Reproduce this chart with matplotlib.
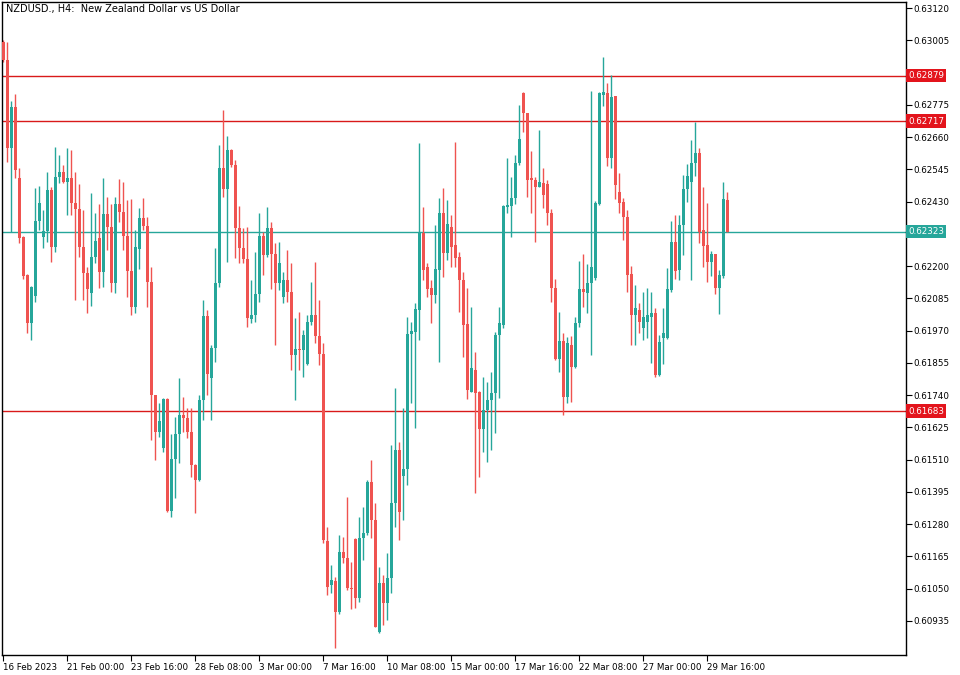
import matplotlib
matplotlib.use("Agg")
import matplotlib.pyplot as plt
import matplotlib.transforms as mtransforms
import pandas as pd

title = "NZDUSD., H4:  New Zealand Dollar vs US Dollar"

open_ = [
    0.62999, 0.62935, 0.62620, 0.62766, 0.62513, 0.62303, 0.62168, 0.61998, 0.62093, 0.62361,
    0.62305, 0.62325, 0.62471, 0.62267, 0.62519, 0.62536, 0.62499, 0.62515, 0.62426, 0.62403,
    0.62267, 0.62176, 0.62103, 0.62233, 0.62300, 0.62180, 0.62385, 0.62340, 0.62140, 0.62420,
    0.62392, 0.62308, 0.62182, 0.62055, 0.62260, 0.62370, 0.62344, 0.62144, 0.61740, 0.61610,
    0.61553, 0.61726, 0.61327, 0.61512, 0.61600, 0.61669, 0.61659, 0.61610, 0.61491, 0.61437,
    0.61723, 0.62022, 0.61800, 0.61907, 0.62139, 0.62549, 0.62474, 0.62614, 0.62560, 0.62335,
    0.62263, 0.62224, 0.62012, 0.62026, 0.62100, 0.62307, 0.62240, 0.62335, 0.62243, 0.62141,
    0.62091, 0.62150, 0.62109, 0.61883, 0.61904, 0.61901, 0.61850, 0.62002, 0.62026, 0.61951,
    0.61886, 0.61220, 0.61063, 0.61077, 0.60967, 0.61182, 0.61160, 0.61052, 0.61227, 0.61016,
    0.61229, 0.61247, 0.61431, 0.61295, 0.60897, 0.61069, 0.60998, 0.61087, 0.61354, 0.61544,
    0.61452, 0.61476, 0.61958, 0.61966, 0.62043, 0.62319, 0.62198, 0.62121, 0.62097, 0.62186,
    0.62388, 0.62245, 0.62340, 0.62275, 0.62233, 0.62150, 0.61993, 0.61752, 0.61830, 0.61752,
    0.61618, 0.61687, 0.61723, 0.61746, 0.61954, 0.61990, 0.62412, 0.62414, 0.62442, 0.62566,
    0.62816, 0.62745, 0.62513, 0.62507, 0.62483, 0.62497, 0.62493, 0.62390, 0.62121, 0.61868,
    0.61934, 0.61734, 0.61919, 0.61841, 0.61996, 0.62117, 0.62105, 0.62139, 0.62156, 0.62421,
    0.62810, 0.62816, 0.62584, 0.62806, 0.62465, 0.62430, 0.62376, 0.62172, 0.62026, 0.62045,
    0.61978, 0.62002, 0.62020, 0.62032, 0.61812, 0.61943, 0.61943, 0.62115, 0.62287, 0.62186,
    0.62346, 0.62475, 0.62501, 0.62568, 0.62604, 0.62329, 0.62275, 0.62216, 0.62242, 0.62123,
    0.62165, 0.62435,
]
high = [
    0.63006, 0.63000, 0.62788, 0.62812, 0.62549, 0.62307, 0.62170, 0.62128, 0.62477, 0.62485,
    0.62400, 0.62536, 0.62483, 0.62623, 0.62596, 0.62560, 0.62620, 0.62614, 0.62536, 0.62493,
    0.62400, 0.62198, 0.62459, 0.62388, 0.62420, 0.62515, 0.62447, 0.62420, 0.62447, 0.62510,
    0.62501, 0.62435, 0.62439, 0.62329, 0.62408, 0.62442, 0.62376, 0.62198, 0.61742, 0.61711,
    0.61728, 0.61728, 0.61600, 0.61663, 0.61802, 0.61734, 0.61693, 0.61695, 0.61493, 0.61740,
    0.62079, 0.62043, 0.61919, 0.62263, 0.62632, 0.62756, 0.62664, 0.62616, 0.62578, 0.62414,
    0.62335, 0.62338, 0.62150, 0.62251, 0.62388, 0.62323, 0.62412, 0.62358, 0.62281, 0.62287,
    0.62180, 0.62257, 0.62210, 0.62014, 0.62037, 0.61972, 0.62026, 0.62144, 0.62216, 0.62079,
    0.61925, 0.61271, 0.61134, 0.61093, 0.61241, 0.61235, 0.61378, 0.61146, 0.61229, 0.61307,
    0.61342, 0.61437, 0.61509, 0.61354, 0.61128, 0.61099, 0.61176, 0.61562, 0.61764, 0.61574,
    0.61693, 0.62020, 0.62002, 0.62069, 0.62640, 0.62412, 0.62210, 0.62150, 0.62346, 0.62442,
    0.62477, 0.62435, 0.62382, 0.62643, 0.62251, 0.62180, 0.62121, 0.62055, 0.61895, 0.61754,
    0.61806, 0.61788, 0.61823, 0.61966, 0.62055, 0.62418, 0.62584, 0.62519, 0.62596, 0.62774,
    0.62822, 0.62746, 0.62611, 0.62519, 0.62685, 0.62549, 0.62507, 0.62402, 0.62153, 0.62037,
    0.61962, 0.61946, 0.61951, 0.62020, 0.62219, 0.62243, 0.62207, 0.62825, 0.62433, 0.62822,
    0.62944, 0.62854, 0.62881, 0.62808, 0.62533, 0.62442, 0.62400, 0.62200, 0.62133, 0.62067,
    0.62109, 0.62121, 0.62107, 0.62052, 0.61954, 0.62052, 0.62192, 0.62361, 0.62382, 0.62382,
    0.62525, 0.62563, 0.62649, 0.62712, 0.62620, 0.62483, 0.62424, 0.62254, 0.62244, 0.62186,
    0.62499, 0.62463,
]
low = [
    0.62927, 0.62572, 0.62320, 0.62513, 0.62281, 0.62153, 0.61962, 0.61936, 0.62073, 0.62329,
    0.62263, 0.62287, 0.62216, 0.62251, 0.62495, 0.62495, 0.62382, 0.62382, 0.62079, 0.62233,
    0.62079, 0.62032, 0.62058, 0.62210, 0.62121, 0.62126, 0.62257, 0.62109, 0.62103, 0.62358,
    0.62257, 0.62091, 0.62026, 0.62032, 0.62190, 0.62329, 0.62055, 0.61580, 0.61509, 0.61592,
    0.61538, 0.61322, 0.61307, 0.61372, 0.61497, 0.61610, 0.61586, 0.61449, 0.61319, 0.61434,
    0.61651, 0.61740, 0.61651, 0.61859, 0.62126, 0.62447, 0.62216, 0.62554, 0.62228, 0.62212,
    0.62212, 0.61984, 0.61998, 0.62002, 0.62073, 0.62168, 0.62233, 0.62117, 0.61919, 0.62115,
    0.62067, 0.62073, 0.61830, 0.61723, 0.61830, 0.61806, 0.61847, 0.61990, 0.61925, 0.61847,
    0.61212, 0.61027, 0.61033, 0.60837, 0.60960, 0.61140, 0.61045, 0.60978, 0.60980, 0.61001,
    0.61152, 0.61241, 0.61229, 0.60912, 0.60891, 0.60920, 0.60938, 0.61033, 0.61271, 0.61224,
    0.61295, 0.61420, 0.61711, 0.61622, 0.61936, 0.62150, 0.62091, 0.61996, 0.62067, 0.61859,
    0.62162, 0.62222, 0.62198, 0.62198, 0.62037, 0.61877, 0.61725, 0.61752, 0.61390, 0.61449,
    0.61538, 0.61503, 0.61544, 0.61604, 0.61729, 0.61978, 0.62388, 0.62305, 0.62421, 0.62560,
    0.62679, 0.62447, 0.62388, 0.62287, 0.62482, 0.62406, 0.62346, 0.62073, 0.61866, 0.61823,
    0.61669, 0.61711, 0.61716, 0.61836, 0.61984, 0.62055, 0.62032, 0.61883, 0.62150, 0.62418,
    0.62771, 0.62557, 0.62549, 0.62438, 0.62388, 0.62293, 0.62109, 0.61919, 0.61919, 0.61960,
    0.61936, 0.61943, 0.61853, 0.61806, 0.61809, 0.61851, 0.61940, 0.62109, 0.62154, 0.62150,
    0.62240, 0.62430, 0.62150, 0.62522, 0.62281, 0.62198, 0.62144, 0.62166, 0.62099, 0.62028,
    0.62159, 0.62320,
]
close = [
    0.62935, 0.62620, 0.62766, 0.62542, 0.62299, 0.62165, 0.61998, 0.62126, 0.62361, 0.62424,
    0.62325, 0.62471, 0.62267, 0.62519, 0.62536, 0.62499, 0.62515, 0.62424, 0.62403, 0.62267,
    0.62176, 0.62117, 0.62233, 0.62290, 0.62180, 0.62385, 0.62340, 0.62140, 0.62420, 0.62392,
    0.62308, 0.62182, 0.62055, 0.62269, 0.62370, 0.62344, 0.62144, 0.61740, 0.61610, 0.61648,
    0.61726, 0.61327, 0.61512, 0.61600, 0.61669, 0.61659, 0.61610, 0.61491, 0.61437, 0.61723,
    0.62022, 0.61815, 0.61907, 0.62139, 0.62549, 0.62474, 0.62614, 0.62560, 0.62335, 0.62263,
    0.62224, 0.62014, 0.62026, 0.62100, 0.62307, 0.62240, 0.62335, 0.62243, 0.62141, 0.62210,
    0.62150, 0.62109, 0.61883, 0.61904, 0.61901, 0.61954, 0.62002, 0.62026, 0.61952, 0.61886,
    0.61224, 0.61057, 0.61081, 0.60968, 0.61182, 0.61158, 0.61053, 0.61049, 0.61016, 0.61229,
    0.61247, 0.61431, 0.61295, 0.60914, 0.61069, 0.60998, 0.61087, 0.61354, 0.61544, 0.61324,
    0.61476, 0.61958, 0.61970, 0.62046, 0.62323, 0.62186, 0.62117, 0.62097, 0.62188, 0.62388,
    0.62245, 0.62350, 0.62269, 0.62228, 0.62150, 0.61990, 0.61758, 0.61836, 0.61749, 0.61618,
    0.61687, 0.61723, 0.61746, 0.61954, 0.61996, 0.62414, 0.62418, 0.62442, 0.62566, 0.62652,
    0.62745, 0.62507, 0.62507, 0.62483, 0.62501, 0.62453, 0.62390, 0.62121, 0.61868, 0.61934,
    0.61734, 0.61925, 0.61841, 0.61996, 0.62117, 0.62109, 0.62139, 0.62198, 0.62424, 0.62816,
    0.62822, 0.62584, 0.62802, 0.62489, 0.62426, 0.62376, 0.62168, 0.62026, 0.62050, 0.62000,
    0.62020, 0.62026, 0.62032, 0.61812, 0.61930, 0.61960, 0.62118, 0.62287, 0.62182, 0.62346,
    0.62475, 0.62522, 0.62568, 0.62602, 0.62323, 0.62273, 0.62216, 0.62242, 0.62123, 0.62168,
    0.62438, 0.62323,
]

level_lines = [0.62879, 0.62717, 0.61683]
last_price = 0.62323
y_ticks = [0.60935, 0.61050, 0.61165, 0.61280, 0.61395, 0.61510, 0.61625, 0.61740,
           0.61855, 0.61970, 0.62085, 0.62200, 0.62315, 0.62430, 0.62545, 0.62660,
           0.62775, 0.62890, 0.63005, 0.63120]
# tick labels hidden behind the price boxes in the reference
hidden_ticks = [0.62315, 0.62890]

BULL = "#26a69a"
BEAR = "#ef5350"
LEVEL = "#d91a1a"
BOX_RED = "#e3141c"

n = len(open_)
times = pd.date_range("2023-02-16 08:00", periods=n * 2, freq="4h")
times = times[times.dayofweek < 5][:n]
xs = list(range(n))

fig = plt.figure(figsize=(9.6, 6.75), dpi=100)
fig.patch.set_facecolor("white")
ax = fig.add_axes([2 / 960, 20 / 675, 904 / 960, 653 / 675])
ax.set_xlim(-0.25, 225.75)
ax.set_ylim(0.6081357, 0.6314139)

cols = [BULL if c >= o else BEAR for o, c in zip(open_, close)]

# level lines
for lv in level_lines:
    ax.axhline(lv, color=LEVEL, lw=1.0, zorder=1)
ax.axhline(last_price, color=BULL, lw=1.0, zorder=1)

# wicks
ax.vlines(xs, low, high, colors=cols, linewidth=1.0, zorder=2)
# bodies
bottoms = [min(o, c) for o, c in zip(open_, close)]
heights = [max(abs(c - o), 0.000035) for o, c in zip(open_, close)]
ax.bar(xs, heights, bottom=bottoms, width=0.75, color=cols, linewidth=0, zorder=3)

# axes styling
for sp in ax.spines.values():
    sp.set_color("black")
    sp.set_linewidth(1.0)

ax.yaxis.tick_right()
ax.set_yticks(y_ticks)
ax.set_yticklabels(["" if any(abs(v - h) < 1e-9 for h in hidden_ticks) else f"{v:.5f}"
                    for v in y_ticks])
ax.tick_params(axis="y", direction="out", length=4, width=0.8, pad=1.5,
               labelsize=6.3, colors="black")

tick_idx = list(range(0, n, 16))
tick_lbls = []
for k in tick_idx:
    t = times[k]
    if k == 0:
        tick_lbls.append(f"{t.day} {t.strftime('%b %Y')}")
    else:
        tick_lbls.append(f"{t.day} {t.strftime('%b %H:%M')}")
ax.set_xticks(tick_idx)
ax.set_xticklabels(tick_lbls, ha="left")
ax.tick_params(axis="x", direction="out", length=4, width=0.8, pad=1.5,
               labelsize=6.3, colors="black")

# price boxes on the right axis
trans = mtransforms.blended_transform_factory(ax.transAxes, ax.transData)
for lv in level_lines:
    ax.text(1.0025, lv, f"{lv:.5f}", transform=trans, ha="left", va="center",
            fontsize=6.3, color="white", zorder=10, clip_on=False,
            bbox=dict(boxstyle="square,pad=0.25", fc=BOX_RED, ec="none"))
ax.text(1.0025, last_price, f"{last_price:.5f}", transform=trans, ha="left",
        va="center", fontsize=6.3, color="white", zorder=10, clip_on=False,
        bbox=dict(boxstyle="square,pad=0.25", fc=BULL, ec="none"))

fig.text(6 / 960, 1 - 9 / 675, title, fontsize=7.0, ha="left", va="center",
         color="black")

fig.savefig("out.png", dpi=100, facecolor="white")
